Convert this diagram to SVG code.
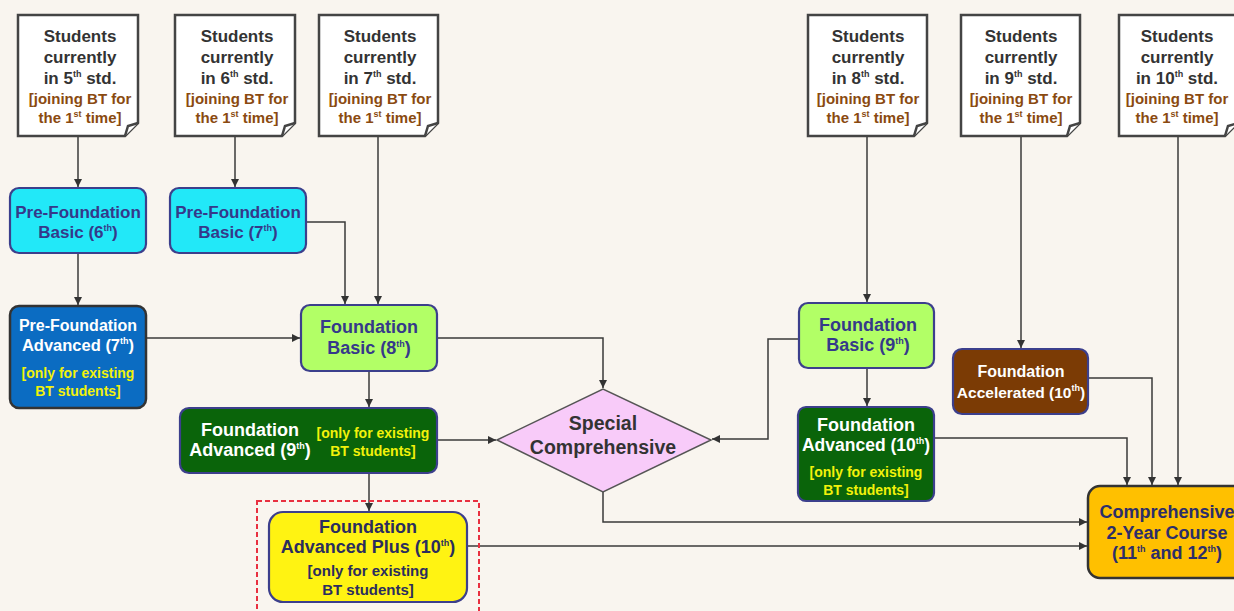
<svg xmlns="http://www.w3.org/2000/svg" width="1234" height="611" viewBox="0 0 1234 611">
<defs>
<marker id="ah" viewBox="0 0 10 10" refX="10" refY="5" markerWidth="8" markerHeight="8" markerUnits="userSpaceOnUse" orient="auto">
<path d="M0,0 L10,5 L0,10 Z" fill="#333"/>
</marker>
<style>
text{font-family:"Liberation Sans",Arial,sans-serif;font-weight:bold;text-anchor:middle}
.doc{fill:#fff;stroke:#444;stroke-width:2.5}
.dt{font-size:17px;fill:#333}
.db{font-size:15px;fill:#8a4a10}
.nb{stroke:#3c3f8c;stroke-width:2.2}
.nt{font-size:18px;fill:#35398a}
.pt{font-size:17px;fill:#35398a}
.wt{font-size:18px;fill:#fff}
.yt{font-size:14px;fill:#f2f20a}
.sup{font-size:9px}
.conn path{fill:none;stroke:#3a3a3a;stroke-width:1.5;marker-end:url(#ah)}
</style>
</defs>
<rect width="1234" height="611" fill="#f9f5ef"/>

<g id="connectors" class="conn">
<path d="M78,136 V187"/>
<path d="M235,136 V187"/>
<path d="M78,253 V305"/>
<path d="M146,338 H300"/>
<path d="M306,222 H345 V304"/>
<path d="M378,136 V304"/>
<path d="M437,338 H603 V388"/>
<path d="M369,371 V407"/>
<path d="M437,440 H496"/>
<path d="M369,473 V511"/>
<path d="M603,492 V522 H1087"/>
<path d="M467,546 H1087"/>
<path d="M799,339 H768 V439 H712"/>
<path d="M867,136 V302"/>
<path d="M867,368 V406"/>
<path d="M1021,136 V348"/>
<path d="M934,438 H1127 V485"/>
<path d="M1088,378 H1152 V485"/>
<path d="M1178,136 V485"/>
</g>

<g id="doc5th">
<path class="doc" d="M18,15 H138 V123 L125,136 H18 Z"/>
<path class="doc" stroke-width="1.8" d="M138,123 L128,126 L125,136"/>
<text class="dt" x="80" y="42">Students</text>
<text class="dt" x="80" y="63">currently</text>
<text class="dt" x="80" y="84">in 5<tspan class="sup" dy="-7">th</tspan><tspan dy="7"> std.</tspan></text>
<text class="db" x="80" y="104">[joining BT for</text>
<text class="db" x="80" y="123">the 1<tspan class="sup" dy="-6">st</tspan><tspan dy="6"> time]</tspan></text>
</g>
<g id="doc6th">
<path class="doc" d="M175,15 H295 V123 L282,136 H175 Z"/>
<path class="doc" stroke-width="1.8" d="M295,123 L285,126 L282,136"/>
<text class="dt" x="237" y="42">Students</text>
<text class="dt" x="237" y="63">currently</text>
<text class="dt" x="237" y="84">in 6<tspan class="sup" dy="-7">th</tspan><tspan dy="7"> std.</tspan></text>
<text class="db" x="237" y="104">[joining BT for</text>
<text class="db" x="237" y="123">the 1<tspan class="sup" dy="-6">st</tspan><tspan dy="6"> time]</tspan></text>
</g>
<g id="doc7th">
<path class="doc" d="M319,15 H438 V123 L425,136 H319 Z"/>
<path class="doc" stroke-width="1.8" d="M438,123 L428,126 L425,136"/>
<text class="dt" x="380" y="42">Students</text>
<text class="dt" x="380" y="63">currently</text>
<text class="dt" x="380" y="84">in 7<tspan class="sup" dy="-7">th</tspan><tspan dy="7"> std.</tspan></text>
<text class="db" x="380" y="104">[joining BT for</text>
<text class="db" x="380" y="123">the 1<tspan class="sup" dy="-6">st</tspan><tspan dy="6"> time]</tspan></text>
</g>
<g id="doc8th">
<path class="doc" d="M808,15 H927 V123 L914,136 H808 Z"/>
<path class="doc" stroke-width="1.8" d="M927,123 L917,126 L914,136"/>
<text class="dt" x="868" y="42">Students</text>
<text class="dt" x="868" y="63">currently</text>
<text class="dt" x="868" y="84">in 8<tspan class="sup" dy="-7">th</tspan><tspan dy="7"> std.</tspan></text>
<text class="db" x="868" y="104">[joining BT for</text>
<text class="db" x="868" y="123">the 1<tspan class="sup" dy="-6">st</tspan><tspan dy="6"> time]</tspan></text>
</g>
<g id="doc9th">
<path class="doc" d="M961,15 H1080 V123 L1067,136 H961 Z"/>
<path class="doc" stroke-width="1.8" d="M1080,123 L1070,126 L1067,136"/>
<text class="dt" x="1021" y="42">Students</text>
<text class="dt" x="1021" y="63">currently</text>
<text class="dt" x="1021" y="84">in 9<tspan class="sup" dy="-7">th</tspan><tspan dy="7"> std.</tspan></text>
<text class="db" x="1021" y="104">[joining BT for</text>
<text class="db" x="1021" y="123">the 1<tspan class="sup" dy="-6">st</tspan><tspan dy="6"> time]</tspan></text>
</g>
<g id="doc10th">
<path class="doc" d="M1119,15 H1238 V123 L1225,136 H1119 Z"/>
<path class="doc" stroke-width="1.8" d="M1238,123 L1228,126 L1225,136"/>
<text class="dt" x="1177" y="42">Students</text>
<text class="dt" x="1177" y="63">currently</text>
<text class="dt" x="1177" y="84">in 10<tspan class="sup" dy="-7">th</tspan><tspan dy="7"> std.</tspan></text>
<text class="db" x="1177" y="104">[joining BT for</text>
<text class="db" x="1177" y="123">the 1<tspan class="sup" dy="-6">st</tspan><tspan dy="6"> time]</tspan></text>
</g>

<g id="pfb6">
<rect class="nb" x="10" y="188" width="136" height="65" rx="9" fill="#22e8f8"/>
<text class="pt" x="78" y="218">Pre-Foundation</text>
<text class="pt" x="78" y="238">Basic (6<tspan class="sup" dy="-7">th</tspan><tspan dy="7">)</tspan></text>
</g>
<g id="pfb7">
<rect class="nb" x="170" y="188" width="136" height="65" rx="9" fill="#22e8f8"/>
<text class="pt" x="238" y="218">Pre-Foundation</text>
<text class="pt" x="238" y="238">Basic (7<tspan class="sup" dy="-7">th</tspan><tspan dy="7">)</tspan></text>
</g>
<g id="pfa7">
<rect x="10" y="306" width="136" height="102" rx="9" fill="#0b6cc2" stroke="#333" stroke-width="2.5"/>
<text class="wt" x="78" y="331" style="font-size:16px">Pre-Foundation</text>
<text class="wt" x="78" y="351" style="font-size:16.5px">Advanced (7<tspan class="sup" dy="-7">th</tspan><tspan dy="7">)</tspan></text>
<text class="yt" x="78" y="378">[only for existing</text>
<text class="yt" x="78" y="396">BT students]</text>
</g>
<g id="fb8">
<rect class="nb" x="301" y="305" width="136" height="66" rx="9" fill="#b2ff66"/>
<text class="nt" x="369" y="333">Foundation</text>
<text class="nt" x="369" y="354">Basic (8<tspan class="sup" dy="-7">th</tspan><tspan dy="7">)</tspan></text>
</g>
<g id="fa9">
<rect class="nb" x="180" y="408" width="257" height="65" rx="9" fill="#0a640a"/>
<text class="wt" x="250" y="436">Foundation</text>
<text class="wt" x="250" y="456">Advanced (9<tspan class="sup" dy="-7">th</tspan><tspan dy="7">)</tspan></text>
<text class="yt" x="373" y="438">[only for existing</text>
<text class="yt" x="373" y="456">BT students]</text>
</g>
<g id="special">
<path d="M497,440 L603,389 L711,440 L603,492 Z" fill="#f8cbf9" stroke="#555" stroke-width="1.5"/>
<text x="603" y="430" font-size="19.5" fill="#333">Special</text>
<text x="603" y="454" font-size="19.5" fill="#333">Comprehensive</text>
</g>
<g id="fb9">
<rect class="nb" x="799" y="303" width="135" height="65" rx="9" fill="#b2ff66"/>
<text class="nt" x="868" y="331">Foundation</text>
<text class="nt" x="868" y="351">Basic (9<tspan class="sup" dy="-7">th</tspan><tspan dy="7">)</tspan></text>
</g>
<g id="fa10">
<rect class="nb" x="798" y="407" width="136" height="94" rx="8" fill="#0a640a"/>
<text class="wt" x="866" y="431">Foundation</text>
<text class="wt" x="866" y="451" style="font-size:17.5px">Advanced (10<tspan class="sup" dy="-7">th</tspan><tspan dy="7">)</tspan></text>
<text class="yt" x="866" y="477">[only for existing</text>
<text class="yt" x="866" y="495">BT students]</text>
</g>
<g id="facc">
<rect class="nb" x="953" y="349" width="135" height="65" rx="9" fill="#7b3b05"/>
<text class="wt" x="1021" y="377" style="font-size:16px">Foundation</text>
<text class="wt" x="1021" y="398" style="font-size:15.5px">Accelerated (10<tspan class="sup" dy="-7">th</tspan><tspan dy="7">)</tspan></text>
</g>
<g id="fap10">
<rect x="257" y="501" width="222" height="120" fill="none" stroke="#e83040" stroke-width="2" stroke-dasharray="5,3"/>
<rect class="nb" x="269" y="512" width="198" height="90" rx="14" fill="#fff312"/>
<text x="368" y="533" font-size="18" fill="#2b2d5e">Foundation</text>
<text x="368" y="553" font-size="18" fill="#2b2d5e">Advanced Plus (10<tspan class="sup" dy="-7">th</tspan><tspan dy="7">)</tspan></text>
<text x="368" y="576" font-size="15" fill="#2b2d5e">[only for existing</text>
<text x="368" y="595" font-size="15" fill="#2b2d5e">BT students]</text>
</g>
<g id="ctc">
<rect x="1088" y="486" width="160" height="92" rx="12" fill="#ffc000" stroke="#333" stroke-width="2.5"/>
<text x="1167" y="518" font-size="18" fill="#2c2e6a">Comprehensive</text>
<text x="1167" y="539" font-size="18" fill="#2c2e6a">2-Year Course</text>
<text x="1167" y="559" font-size="18" fill="#2c2e6a">(11<tspan class="sup" dy="-7">th</tspan><tspan dy="7"> and 12</tspan><tspan class="sup" dy="-7">th</tspan><tspan dy="7">)</tspan></text>
</g>
</svg>
